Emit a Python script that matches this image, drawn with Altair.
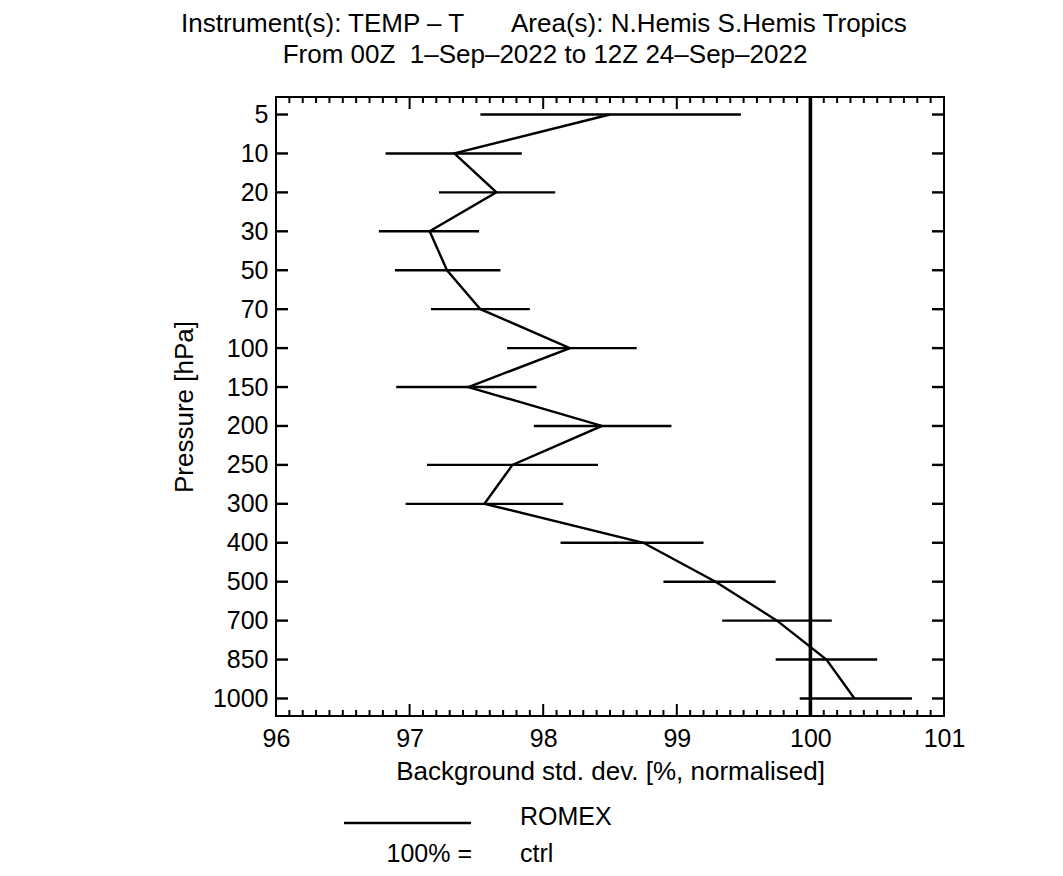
import altair as alt
import pandas as pd

# ---- data ----
levels = ["5", "10", "20", "30", "50", "70", "100", "150", "200", "250",
          "300", "400", "500", "700", "850", "1000"]
romex = [98.50, 97.335, 97.65, 97.15, 97.28, 97.53, 98.20, 97.44, 98.44, 97.77,
         97.56, 98.75, 99.29, 99.75, 100.12, 100.33]
err_lo = [97.53, 96.82, 97.22, 96.77, 96.89, 97.16, 97.73, 96.90, 97.93, 97.13,
          96.97, 98.13, 98.90, 99.34, 99.74, 99.92]
err_hi = [99.48, 97.84, 98.09, 97.52, 97.68, 97.90, 98.70, 97.95, 98.96, 98.41,
          98.15, 99.20, 99.74, 100.16, 100.50, 100.76]
x_major = [96, 97, 98, 99, 100, 101]
x_minor = [round(96 + i / 10, 1) for i in range(1, 50) if i % 10 != 0]
ref_value = [100]

title1a = "Instrument(s): TEMP \u2013 T"
title1b = "Area(s): N.Hemis S.Hemis Tropics"
title2 = "From 00Z\u00a0\u00a01\u2013Sep\u20132022 to 12Z 24\u2013Sep\u20132022"
x_title = "Background std. dev. [%, normalised]"
y_title = "Pressure [hPa]"

FONT = "Liberation Sans"
W, H = 668, 619
FS = 25
TFS = 26
LW = 2.4

df = pd.DataFrame({"level": levels, "value": romex, "lo": err_lo, "hi": err_hi,
                   "idx": list(range(len(levels)))})

xscale = alt.Scale(domain=[96, 101], nice=False, zero=False)
yscale = alt.Scale(type="point", padding=0.45)

xaxis = alt.Axis(values=x_major, format="d", ticks=False, domain=False,
                 grid=False, labelFontSize=FS, labelPadding=10, labelFlush=False,
                 title=x_title, titleFontSize=TFS, titleFontWeight="normal",
                 titlePadding=7)
yaxis = alt.Axis(ticks=False, domain=False, grid=False, labelFontSize=FS,
                 labelPadding=8, title=y_title, titleFontSize=TFS,
                 titleFontWeight="normal", titlePadding=15)

base = alt.Chart(df)

errbars = base.mark_rule(color="black", strokeWidth=LW).encode(
    x=alt.X("lo:Q", scale=xscale, axis=xaxis), x2="hi:Q",
    y=alt.Y("level:N", sort=levels, scale=yscale, axis=yaxis))

line = base.mark_line(color="black", strokeWidth=LW).encode(
    x=alt.X("value:Q", scale=xscale), y=alt.Y("level:N", sort=levels, scale=yscale),
    order=alt.Order("idx:Q"))

ref = alt.Chart(pd.DataFrame({"v": ref_value})).mark_rule(
    color="black", strokeWidth=3.6).encode(x=alt.X("v:Q", scale=xscale))

# inward ticks
ytick_df = pd.DataFrame({"level": levels})
ytl = alt.Chart(ytick_df).mark_rule(color="black", strokeWidth=LW).encode(
    y=alt.Y("level:N", sort=levels, scale=yscale), x=alt.value(0), x2=alt.value(12))
ytr = alt.Chart(ytick_df).mark_rule(color="black", strokeWidth=LW).encode(
    y=alt.Y("level:N", sort=levels, scale=yscale), x=alt.value(W - 12), x2=alt.value(W))

maj_df = pd.DataFrame({"t": x_major})
min_df = pd.DataFrame({"t": x_minor})
xb_maj = alt.Chart(maj_df).mark_rule(color="black", strokeWidth=2).encode(
    x=alt.X("t:Q", scale=xscale), y=alt.value(H - 12), y2=alt.value(H))
xb_min = alt.Chart(min_df).mark_rule(color="black", strokeWidth=2).encode(
    x=alt.X("t:Q", scale=xscale), y=alt.value(H - 6), y2=alt.value(H))
xt_maj = alt.Chart(maj_df).mark_rule(color="black", strokeWidth=2).encode(
    x=alt.X("t:Q", scale=xscale), y=alt.value(0), y2=alt.value(12))
xt_min = alt.Chart(min_df).mark_rule(color="black", strokeWidth=2).encode(
    x=alt.X("t:Q", scale=xscale), y=alt.value(0), y2=alt.value(6))

# titles
one = pd.DataFrame({"a": [0]})
def txt(s, x, y, align="left", size=FS, baseline="middle"):
    return alt.Chart(one).mark_text(font=FONT, fontSize=size, color="black",
                                    align=align, baseline=baseline).encode(
        x=alt.value(x), y=alt.value(y), text=alt.value(s))

t1a = txt(title1a, 181 - 276, 32 - 97, size=TFS, baseline="alphabetic")
t1b = txt(title1b, 511 - 276, 32 - 97, size=TFS, baseline="alphabetic")
t2 = txt(title2, 545 - 276, 63 - 97, align="center", size=TFS, baseline="alphabetic")

# legend
leg_line = alt.Chart(one).mark_rule(color="black", strokeWidth=LW).encode(
    x=alt.value(344 - 276), x2=alt.value(471 - 276), y=alt.value(823 - 97))
leg1 = txt("ROMEX", 520 - 276, 825 - 97, baseline="alphabetic")
leg2 = txt("100% =", 472 - 276, 862 - 97, align="right", baseline="alphabetic")
leg3 = txt("ctrl", 520 - 276, 862 - 97, baseline="alphabetic")

chart = alt.layer(
    errbars, line, ref, ytl, ytr, xb_maj, xb_min, xt_maj, xt_min,
    t1a, t1b, t2, leg_line, leg1, leg2, leg3
).properties(
    width=W, height=H,
    autosize=alt.AutoSizeParams(type="none"),
    padding={"left": 268, "top": 89, "right": 100, "bottom": 152},
    background="white",
).configure_view(
    stroke="black", strokeWidth=2
).configure_axis(
    labelFont=FONT, titleFont=FONT, labelColor="black", titleColor="black"
)

chart.save("out.html", embed_options={"renderer": "svg", "actions": False})
